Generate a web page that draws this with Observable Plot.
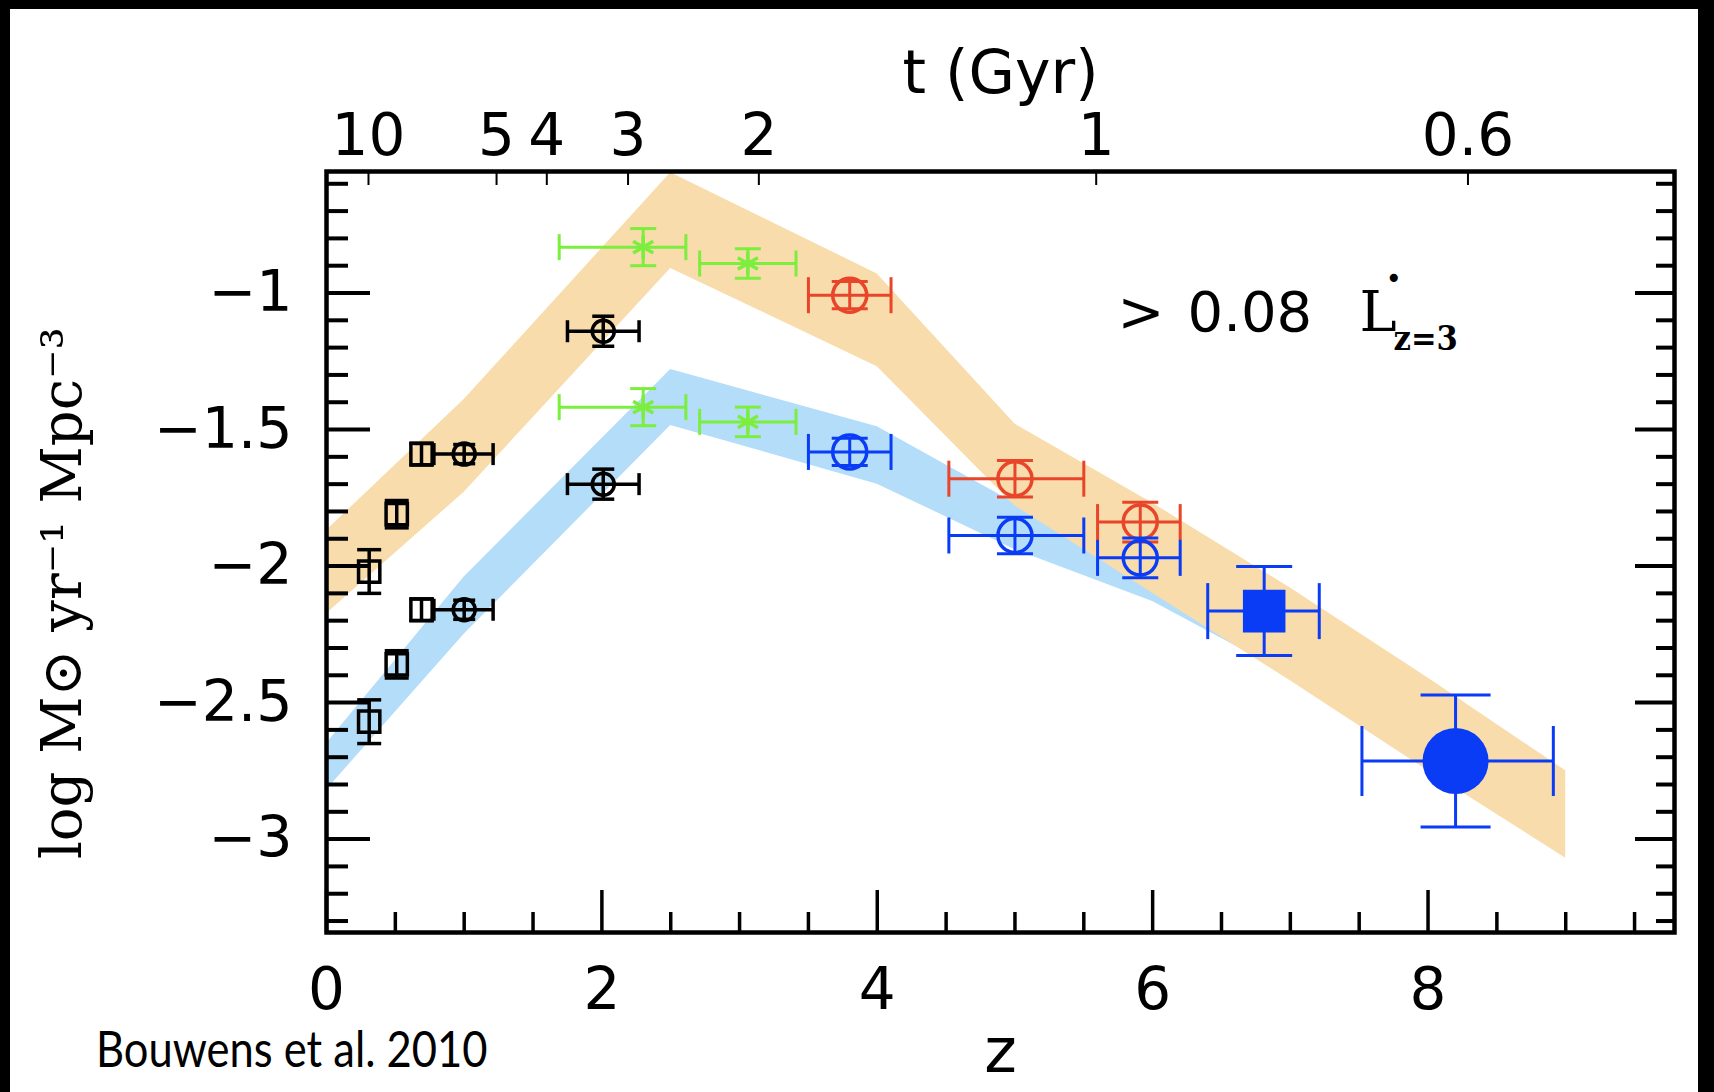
<!DOCTYPE html>
<html><head><meta charset="utf-8">
<script src="https://cdn.jsdelivr.net/npm/d3@7"></script>
<script src="https://cdn.jsdelivr.net/npm/@observablehq/plot@0.6"></script>
<style>
html,body{margin:0;padding:0;background:#000;}
#page{position:relative;width:1714px;height:1092px;background:#000;overflow:hidden;}
#paper{position:absolute;left:10px;top:9px;width:1688px;height:1083px;background:#fff;}
#chart{position:absolute;left:0;top:0;}
#caption{position:absolute;left:96px;top:1023px;font-family:Lato,sans-serif;font-size:50px;line-height:1;color:#000;transform-origin:0 0;transform:scaleX(0.87);white-space:nowrap;}
#chart g[aria-label="toplabel"] text{letter-spacing:5px;}
#chart g[aria-label="ylabel"] text{word-spacing:36px;}
#chart g[aria-label="note"] text{letter-spacing:3px;}
</style></head>
<body><div id="page"><div id="paper"></div><div id="chart"></div><div id="caption">Bouwens et al. 2010</div></div>
<script>
// ---------- axes ----------
const xTicksMajor = [0, 2, 4, 6, 8];
const xTickLabels = ["0", "2", "4", "6", "8"];
const xTicksMinor = [0.5, 1, 1.5, 2.5, 3, 3.5, 4.5, 5, 5.5, 6.5, 7, 7.5, 8.5, 9, 9.5];
const yTicksMajor = [-3, -2.5, -2, -1.5, -1];
const yTickLabels = ["−3", "−2.5", "−2", "−1.5", "−1"];
const yTicksMinor = [-3.3, -3.2, -3.1, -2.9, -2.8, -2.7, -2.6, -2.4, -2.3, -2.2, -2.1,
  -1.9, -1.8, -1.7, -1.6, -1.4, -1.3, -1.2, -1.1, -0.9, -0.8, -0.7, -0.6];
const tTickLabels = ["10", "5", "4", "3", "2", "1", "0.6"];   // cosmic time (Gyr)
const tTickZ = [0.305, 1.235, 1.60, 2.19, 3.14, 5.59, 8.29];  // redshift of each age
const xTitle = "z", topTitle = "t (Gyr)", yTitle = "log M⊙ yr⁻¹ Mpc⁻³";

// ---------- shaded bands ----------
const bandZ    = [0, 1, 2.5, 4, 5, 6, 7, 8, 9];
const orangeHi = [-1.87, -1.39, -0.56, -0.93, -1.48, -1.77, -2.08, -2.41, -2.75];
const orangeLo = [-2.175, -1.73, -0.91, -1.27, -1.78, -2.10, -2.42, -2.75, -3.07];
const blueZ    = [0, 1, 2.5, 4, 5, 6, 7];
const blueHi   = [-2.65, -2.04, -1.28, -1.49, -1.77, -2.03, -2.32];
const blueLo   = [-2.82, -2.25, -1.485, -1.70, -1.94, -2.13, -2.40];

// ---------- data points ----------
// black open squares (low z)
const sqZ    = [0.31, 0.51, 0.69, 0.31, 0.51, 0.69];
const sqV    = [-2.02, -1.81, -1.59, -2.57, -2.36, -2.16];
const sqVerr = [0.08, 0.05, 0.04, 0.08, 0.05, 0.04];
// black open circles
const bcZ    = [1.0, 2.01, 1.0, 2.01];
const bcV    = [-1.59, -1.14, -2.16, -1.70];
const bcZlo  = [0.78, 1.75, 0.78, 1.75];
const bcZhi  = [1.21, 2.27, 1.21, 2.27];
const bcVerr = [0.035, 0.055, 0.035, 0.055];
// green asterisks
const grZ    = [2.30, 3.06, 2.30, 3.06];
const grV    = [-0.832, -0.892, -1.418, -1.472];
const grZlo  = [1.69, 2.71, 1.69, 2.71];
const grZhi  = [2.61, 3.41, 2.61, 3.41];
const grVerr = [0.068, 0.054, 0.068, 0.054];
// red open circles (dust corrected)
const rdZ    = [3.80, 5.00, 5.91];
const rdV    = [-1.008, -1.680, -1.839];
const rdZlo  = [3.50, 4.52, 5.60];
const rdZhi  = [4.10, 5.50, 6.20];
const rdVerr = [0.05, 0.067, 0.073];
// blue open circles (uncorrected)
const buZ    = [3.80, 5.00, 5.91];
const buV    = [-1.582, -1.888, -1.970];
const buZlo  = [3.50, 4.52, 5.60];
const buZhi  = [4.10, 5.50, 6.20];
const buVerr = [0.05, 0.067, 0.073];
// blue filled square (z~7)
const fsZ = [6.81], fsV = [-2.165], fsZlo = [6.40], fsZhi = [7.21], fsVerr = [0.163];
// blue filled circle (z~8)
const fcZ = [8.20], fcV = [-2.714], fcZlo = [7.52], fcZhi = [8.91], fcVerr = [0.242];

// annotation
const noteZ = [5.745], noteV = [-1.075];
const noteGt = ">", noteNum = "0.08", noteL = "L", noteSub = "z=3", noteSup = "•";

// ---------- colours ----------
const cOrange = "#f8dcab", cBlueBand = "#b3ddf8", cGreen = "#7bee3e",
      cRed = "#e8452a", cBlue = "#0a3cf5";

// ---------- helpers ----------
const vbar = {draw(ctx, size) { const r = Math.sqrt(size / Math.PI); ctx.moveTo(0, -r); ctx.lineTo(0, r); }};
const hbar = {draw(ctx, size) { const r = Math.sqrt(size / Math.PI); ctx.moveTo(-r, 0); ctx.lineTo(r, 0); }};

function errMarks(z, v, zlo, zhi, verr, color, sw, cap) {
  const rows = z.map((d, i) => ({z: d, v: v[i], zlo: zlo ? zlo[i] : null, zhi: zhi ? zhi[i] : null,
                                 vlo: v[i] - verr[i], vhi: v[i] + verr[i]}));
  const xr = rows.filter(r => r.zlo != null);
  return [
    Plot.ruleY(xr, {y: "v", x1: "zlo", x2: "zhi", stroke: color, strokeWidth: sw}),
    Plot.ruleX(rows, {x: "z", y1: "vlo", y2: "vhi", stroke: color, strokeWidth: sw}),
    Plot.dot(xr.flatMap(r => [{z: r.zlo, v: r.v}, {z: r.zhi, v: r.v}]),
      {x: "z", y: "v", symbol: vbar, r: cap, stroke: color, strokeWidth: sw, fill: "none"}),
    Plot.dot(rows.flatMap(r => [{z: r.z, v: r.vlo}, {z: r.z, v: r.vhi}]),
      {x: "z", y: "v", symbol: hbar, r: cap, stroke: color, strokeWidth: sw, fill: "none"})
  ];
}
const pts = (z, v) => z.map((d, i) => ({z: d, v: v[i]}));
const band = (z, lo, hi) => z.map((d, i) => ({z: d, lo: lo[i], hi: hi[i]}));

const tickFont = "DejaVu Sans";

const chart = Plot.plot({
  width: 1714, height: 1092,
  marginLeft: 326, marginRight: 40, marginTop: 171, marginBottom: 160,
  x: {domain: [0, 9.79], label: null},
  y: {domain: [-3.342, -0.555], label: null},
  style: {background: "transparent", fontFamily: tickFont, overflow: "visible"},
  marks: [
    Plot.areaY(band(blueZ, blueLo, blueHi), {x: "z", y1: "lo", y2: "hi", fill: cBlueBand}),
    Plot.areaY(band(bandZ, orangeLo, orangeHi), {x: "z", y1: "lo", y2: "hi", fill: cOrange}),

    // inward ticks
    Plot.axisY(yTicksMajor, {anchor: "left", tickSize: -44, strokeWidth: 4, text: null, label: null}),
    Plot.axisY(yTicksMinor, {anchor: "left", tickSize: -22, strokeWidth: 4, text: null, label: null}),
    Plot.axisY(yTicksMajor, {anchor: "right", tickSize: -40, strokeWidth: 4, text: null, label: null}),
    Plot.axisY(yTicksMinor, {anchor: "right", tickSize: -19, strokeWidth: 4, text: null, label: null}),
    Plot.axisX(xTicksMajor, {anchor: "bottom", tickSize: -42, strokeWidth: 3.5, text: null, label: null}),
    Plot.axisX(xTicksMinor, {anchor: "bottom", tickSize: -20, strokeWidth: 3.5, text: null, label: null}),
    Plot.axisX(tTickZ, {anchor: "top", tickSize: -13, strokeWidth: 2, text: null, label: null}),
    // labels
    Plot.axisY(yTicksMajor, {anchor: "left", tickSize: 0, tickPadding: 34, fontSize: 57, fontFamily: tickFont,
      tickFormat: d => yTickLabels[yTicksMajor.indexOf(d)], label: null}),
    Plot.axisX(xTicksMajor, {anchor: "bottom", tickSize: 0, tickPadding: 35, fontSize: 58, fontFamily: tickFont,
      tickFormat: d => xTickLabels[xTicksMajor.indexOf(d)], label: null}),
    Plot.axisX(tTickZ, {anchor: "top", tickSize: 0, tickPadding: 17, fontSize: 58, fontFamily: tickFont,
      tickFormat: d => tTickLabels[tTickZ.indexOf(d)], label: null}),
    Plot.frame({stroke: "#000", strokeWidth: 4.5}),

    // error bars + markers
    ...errMarks(sqZ, sqV, null, null, sqVerr, "#000", 3.5, 12),
    Plot.dot(pts(sqZ, sqV), {x: "z", y: "v", symbol: "square", r: 12, stroke: "#000", strokeWidth: 3.5, fill: "none"}),
    ...errMarks(bcZ, bcV, bcZlo, bcZhi, bcVerr, "#000", 3.5, 11),
    Plot.dot(pts(bcZ, bcV), {x: "z", y: "v", r: 11, stroke: "#000", strokeWidth: 3.5, fill: "none"}),
    ...errMarks(grZ, grV, grZlo, grZhi, grVerr, cGreen, 3, 13),
    Plot.dot(pts(grZ, grV), {x: "z", y: "v", symbol: "asterisk", r: 11, stroke: cGreen, strokeWidth: 3.5, fill: "none"}),
    ...errMarks(rdZ, rdV, rdZlo, rdZhi, rdVerr, cRed, 3, 18),
    Plot.dot(pts(rdZ, rdV), {x: "z", y: "v", r: 17, stroke: cRed, strokeWidth: 3.5, fill: "none"}),
    ...errMarks(buZ, buV, buZlo, buZhi, buVerr, cBlue, 3, 18),
    Plot.dot(pts(buZ, buV), {x: "z", y: "v", r: 17, stroke: cBlue, strokeWidth: 3.5, fill: "none"}),
    ...errMarks(fsZ, fsV, fsZlo, fsZhi, fsVerr, cBlue, 3, 28),
    Plot.dot(pts(fsZ, fsV), {x: "z", y: "v", symbol: "square", r: 24, fill: cBlue}),
    ...errMarks(fcZ, fcV, fcZlo, fcZhi, fcVerr, cBlue, 3, 35),
    Plot.dot(pts(fcZ, fcV), {x: "z", y: "v", r: 33, fill: cBlue}),

    // annotation
    Plot.text(pts(noteZ, noteV), {x: "z", y: "v", text: () => noteGt, textAnchor: "start", fontSize: 56, fontFamily: tickFont}),
    Plot.text(pts(noteZ, noteV), {x: "z", y: "v", text: () => noteNum, textAnchor: "start", dx: 70, fontSize: 56, fontFamily: tickFont, ariaLabel: "note"}),
    Plot.text(pts(noteZ, noteV), {x: "z", y: "v", text: () => noteL, textAnchor: "start", dx: 242, fontSize: 56, fontFamily: "DejaVu Serif"}),
    Plot.text(pts(noteZ, noteV), {x: "z", y: "v", text: () => noteSub, textAnchor: "start", dx: 276, dy: 26, fontSize: 34, fontWeight: "bold", fontFamily: "DejaVu Serif Condensed, DejaVu Serif"}),
    Plot.text(pts(noteZ, noteV), {x: "z", y: "v", text: () => noteSup, textAnchor: "start", dx: 268, dy: -34, fontSize: 28, fontFamily: tickFont}),

    // axis titles
    Plot.text([topTitle], {frameAnchor: "top", lineAnchor: "middle", textAnchor: "middle", dy: -98, fontSize: 60, fontFamily: tickFont, ariaLabel: "toplabel"}),
    Plot.text([xTitle], {frameAnchor: "bottom", lineAnchor: "middle", textAnchor: "middle", dy: 120, fontSize: 62, fontFamily: tickFont}),
    Plot.text([yTitle], {frameAnchor: "left", lineAnchor: "middle", textAnchor: "middle", rotate: -90, dx: -263, dy: 41, fontSize: 56, fontFamily: "DejaVu Serif", ariaLabel: "ylabel"})
  ]
});
document.getElementById("chart").appendChild(chart);

// y title with subscript / superscripts
const yl = chart.querySelector('g[aria-label="ylabel"] text');
if (yl) {
  const ns = "http://www.w3.org/2000/svg";
  yl.textContent = "";
  const parts = [["log M", 0, 1], ["⊙", 14, 0.62], [" yr", -14, 1], ["−1", -22, 0.6], [" Mpc", 22, 1], ["−3", -22, 0.6]];
  parts.forEach(([s, dy, fs]) => {
    const ts = document.createElementNS(ns, "tspan");
    ts.textContent = s;
    if (dy) ts.setAttribute("dy", dy);
    if (fs !== 1) ts.setAttribute("font-size", 56 * fs);
    yl.appendChild(ts);
  });
}
</script></body></html>
